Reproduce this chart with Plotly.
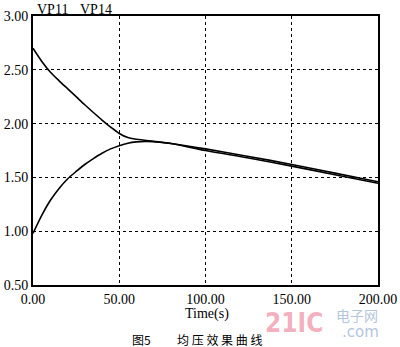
import plotly.graph_objects as go

# Data
t_vp11 = [0, 5, 10, 15, 20, 25, 30, 35, 40, 45, 50, 55, 60, 70, 80, 100, 125, 150, 175, 200]
vp11 = [2.70, 2.58, 2.48, 2.40, 2.325, 2.25, 2.175, 2.103, 2.033, 1.968, 1.908, 1.87, 1.855, 1.835, 1.815, 1.765, 1.695, 1.62, 1.54, 1.46]

t_vp14 = [0, 5, 10, 15, 20, 25, 30, 35, 40, 45, 50, 55, 60, 65, 70, 80, 100, 125, 150, 175, 200]
vp14 = [0.98, 1.145, 1.285, 1.395, 1.485, 1.555, 1.62, 1.675, 1.725, 1.765, 1.795, 1.818, 1.83, 1.834, 1.832, 1.815, 1.75, 1.68, 1.605, 1.525, 1.445]

x_ticks = [0, 50, 100, 150, 200]
x_labels = ["0.00", "50.00", "100.00", "150.00", "200.00"]
y_ticks = [0.5, 1.0, 1.5, 2.0, 2.5, 3.0]
y_labels = ["0.50", "1.00", "1.50", "2.00", "2.50", "3.00"]

W, H = 400, 347
L, R, T, B = 33, 22, 16, 62
PW, PH = W - L - R, H - T - B

def px(x):
    return (x - L) / PW

def py(y):
    return (H - B - y) / PH

SERIF = "Liberation Serif, Times New Roman, serif"
CJK = "Noto Sans CJK SC"

fig = go.Figure()
fig.add_trace(go.Scatter(x=t_vp11, y=vp11, mode="lines", name="VP11",
                         line=dict(color="black", width=1.6, shape="spline", smoothing=0.8)))
fig.add_trace(go.Scatter(x=t_vp14, y=vp14, mode="lines", name="VP14",
                         line=dict(color="black", width=1.6, shape="spline", smoothing=0.8)))

axis_common = dict(showgrid=True, gridcolor="black", griddash="dot", gridwidth=1,
                   showline=True, linecolor="black", linewidth=2, mirror=True,
                   zeroline=False, ticks="", automargin=False,
                   tickfont=dict(family=SERIF, size=14, color="black"))

fig.update_xaxes(range=[0, 200], tickvals=x_ticks, ticktext=x_labels, **axis_common)
fig.update_yaxes(range=[0.5, 3.0], tickvals=y_ticks, ticktext=y_labels, **axis_common)

annots = [
    dict(x=px(35), y=py(9), text="VP11", xanchor="left", font=dict(family=SERIF, size=14)),
    dict(x=px(78), y=py(9), text="VP14", xanchor="left", font=dict(family=SERIF, size=14)),
    dict(x=px(207), y=py(314), text="Time(s)", xanchor="center", font=dict(family=SERIF, size=14)),
    dict(x=px(141), y=py(339), text="图5", xanchor="center", font=dict(family=CJK, size=12)),
    dict(x=px(219), y=py(339), text="均 压 效 果 曲 线", xanchor="center", font=dict(family=CJK, size=12)),
    dict(x=px(294), y=py(323), text="<b>21IC</b>", xanchor="center",
         font=dict(family="DejaVu Sans Condensed, DejaVu Sans", size=26, color="rgba(240,150,170,0.75)")),
    dict(x=px(357), y=py(315), text="电子网", xanchor="center",
         font=dict(family=CJK, size=14, color="rgba(160,180,210,0.8)")),
    dict(x=px(360), y=py(332), text=".com", xanchor="center",
         font=dict(family="DejaVu Sans", size=15, color="rgba(160,180,210,0.8)")),
]
for a in annots:
    a.update(xref="paper", yref="paper", yanchor="middle", showarrow=False)
    a["font"].setdefault("color", "black")

fig.update_layout(width=W, height=H, margin=dict(l=L, r=R, t=T, b=B),
                  paper_bgcolor="white", plot_bgcolor="white",
                  showlegend=False, annotations=annots)

fig.write_html("out.html", config={"displayModeBar": False},
               post_script="document.body.style.margin='0';")
